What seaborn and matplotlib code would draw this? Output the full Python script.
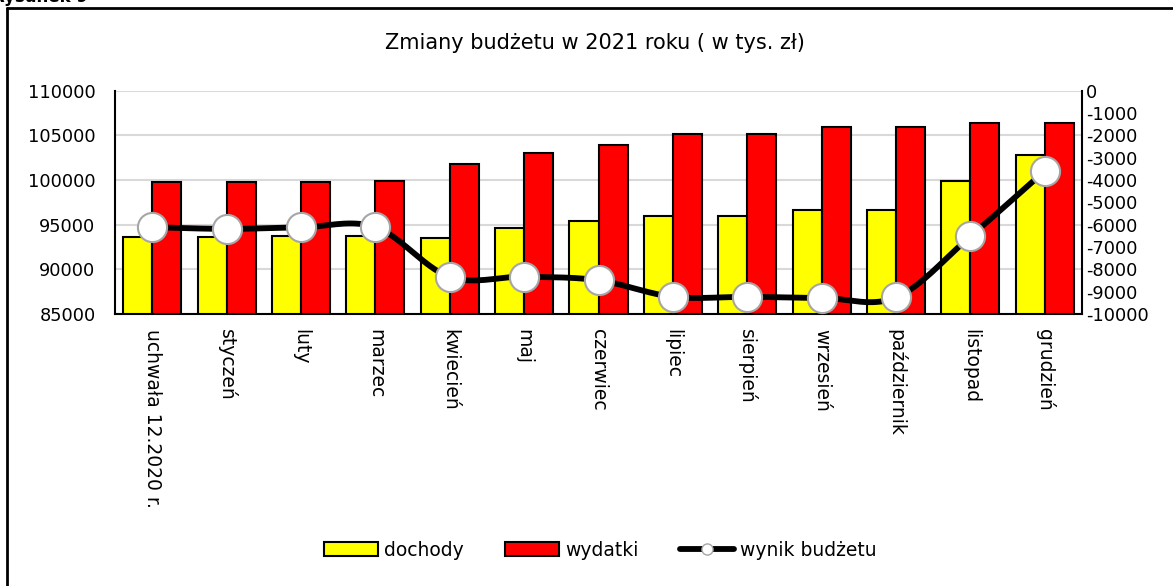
import numpy as np
import pandas as pd
import seaborn as sns
import matplotlib.pyplot as plt
from matplotlib.patches import Patch
from matplotlib.lines import Line2D

# dane (tys. zł)
miesiace = ['uchwała 12.2020 r.', 'styczeń', 'luty', 'marzec', 'kwiecień', 'maj',
            'czerwiec', 'lipiec', 'sierpień', 'wrzesień', 'październik',
            'listopad', 'grudzień']
dochody = [93630, 93630, 93700, 93780, 93480, 94670, 95400,
           95960, 95960, 96650, 96630, 99890, 102780]
wydatki = [99740, 99820, 99820, 99890, 101820, 103000, 103890,
           105190, 105190, 105930, 105890, 106410, 106370]
wynik = [-6110, -6190, -6120, -6110, -8340, -8330, -8490,
         -9230, -9230, -9280, -9260, -6520, -3590]

W, H = 1173, 586


def smooth(xs, ys, n=20):
    # wygladzanie jak w Excelu (Catmull-Rom -> Bezier)
    p = np.column_stack([xs, ys]).astype(float)
    p = np.vstack([p[0], p, p[-1]])
    out = []
    t = np.linspace(0, 1, n)[:, None]
    for i in range(1, len(p) - 2):
        p0, p1, p2, p3 = p[i - 1], p[i], p[i + 1], p[i + 2]
        c1 = p1 + (p2 - p0) / 6
        c2 = p2 - (p3 - p1) / 6
        seg = ((1 - t) ** 3) * p1 + 3 * ((1 - t) ** 2) * t * c1 \
            + 3 * (1 - t) * t ** 2 * c2 + t ** 3 * p2
        out.append(seg if i == 1 else seg[1:])
    out = np.vstack(out)
    return out[:, 0], out[:, 1]


df = pd.DataFrame({'miesiac': miesiace * 2,
                   'wartosc': dochody + wydatki,
                   'seria': ['dochody'] * len(miesiace) + ['wydatki'] * len(miesiace)})

sns.set_style('white')
plt.rcParams['font.family'] = ['DejaVu Sans']
plt.rcParams['axes.unicode_minus'] = False
plt.rcParams['text.color'] = 'black'
plt.rcParams['xtick.color'] = 'black'
plt.rcParams['ytick.color'] = 'black'

fig = plt.figure(figsize=(W / 100, H / 100), dpi=100)
ax = fig.add_axes([115 / W, 1 - 314 / H, (1082 - 115) / W, (314 - 90.7) / H])

sns.barplot(data=df, x='miesiac', y='wartosc', hue='seria',
            palette=['#ffff00', '#ff0000'], saturation=1,
            edgecolor='black', linewidth=1.5,
            width=0.78, ax=ax, legend=False, zorder=2)
ax.set_xlim(-0.5, len(miesiace) - 0.5)
ax.set_ylim(85000, 110000)
ax.set_yticks(np.arange(85000, 110001, 5000))
ax.yaxis.grid(True, color='#d9d9d9', linewidth=1.5, zorder=0)
ax.set_axisbelow(True)
ax.set_xlabel('')
ax.set_ylabel('')
ax.tick_params(axis='y', length=0, pad=14, labelsize=12.8)
ax.tick_params(axis='x', length=0, pad=11, labelsize=13.5)
plt.setp(ax.get_xticklabels(), rotation=-90, ha='center', va='top')
for s in ['top', 'right']:
    ax.spines[s].set_visible(False)
for s in ['left', 'bottom']:
    ax.spines[s].set_color('black')
    ax.spines[s].set_linewidth(1.5)

ax2 = ax.twinx()
xs = np.arange(len(miesiace))
sx, sy = smooth(xs, wynik)
ax2.plot(sx, sy, color='black', linewidth=4.2, solid_capstyle='round', zorder=3)
ax2.plot(xs, wynik, linestyle='none', marker='o', markersize=21,
         markerfacecolor='white', markeredgecolor='#a6a6a6',
         markeredgewidth=1.5, zorder=4)
ax2.set_ylim(-10000, 0)
ax2.set_yticks(np.arange(-10000, 1, 1000))
ax2.tick_params(axis='y', length=0, pad=3, labelsize=12.8)
for s in ['top', 'left', 'bottom']:
    ax2.spines[s].set_visible(False)
ax2.spines['right'].set_color('black')
ax2.spines['right'].set_linewidth(1.5)

fig.text(595 / W, 1 - 43 / H, 'Zmiany budżetu w 2021 roku ( w tys. zł)',
         ha='center', va='center', fontsize=15)

handles = [Patch(facecolor='#ffff00', edgecolor='black', linewidth=1.5),
           Patch(facecolor='#ff0000', edgecolor='black', linewidth=1.5),
           Line2D([], [], color='black', linewidth=4.2, marker='o', markersize=8,
                  markerfacecolor='white', markeredgecolor='#a6a6a6')]
fig.legend(handles, ['dochody', 'wydatki', 'wynik budżetu'], loc='center',
           bbox_to_anchor=(600 / W, 1 - 550 / H), ncol=3, frameon=False,
           fontsize=13.5, handlelength=2.9, handleheight=0.75,
           handletextpad=0.3, columnspacing=2.2)

# ramka rysunku i podpis
fig.add_artist(Line2D([7 / W, 7 / W], [0, 1 - 8 / H], color='black', linewidth=2))
fig.add_artist(Line2D([7 / W, 1], [1 - 8 / H, 1 - 8 / H], color='black', linewidth=2))
fig.text(-8 / W, 1 - 6 / H, 'Rysunek 9', ha='left', va='bottom',
         fontsize=12, fontweight='bold')

fig.savefig('out.png', dpi=100)
